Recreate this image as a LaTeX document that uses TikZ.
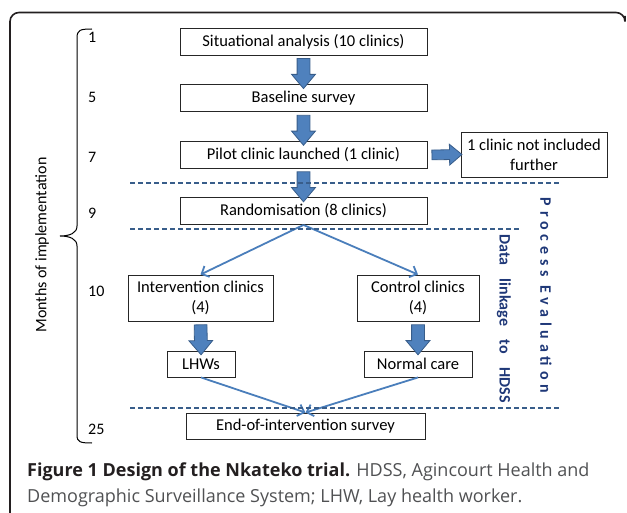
\documentclass[tikz,border=0pt]{standalone}
\usepackage{fontspec}
\setmainfont{Carlito}
\newfontfamily\capfont{Open Sans}
\usepackage{tikz}
\usetikzlibrary{shapes.arrows}
\usetikzlibrary{arrows.meta}
\definecolor{blockblue}{HTML}{4F81BD}
\definecolor{blockedge}{HTML}{385D8A}
\definecolor{lineblue}{HTML}{4A7EBB}
\definecolor{navyblue}{HTML}{1F3878}
\definecolor{capgray}{HTML}{505153}
\definecolor{capdark}{HTML}{231F20}

\tikzset{
  stage/.style={draw=black!85, line width=0.9pt, minimum width=247pt, minimum height=27pt,
    inner sep=0pt, align=center, font=\fontsize{16.5}{20}\selectfont},
  month/.style={anchor=west, inner sep=0pt, font=\fontsize{16}{19}\selectfont},
  fat/.style={single arrow, draw=blockedge, fill=blockblue, line width=0.8pt, inner sep=6pt,
    minimum height=30pt, single arrow head extend=5.5pt,
    single arrow tip angle=80, sloped, allow upside down},
  link/.style={draw=lineblue, line width=1.8pt, -{Straight Barb[length=6pt,width=12pt]}},
  cut/.style={blockedge, dashed, dash pattern=on 5pt off 3pt, line width=1.2pt},
  side/.style={text=navyblue, font=\bfseries\fontsize{16}{19}\selectfont}
}

\begin{document}
\begin{tikzpicture}[x=1pt, y=-1pt]
	\useasboundingbox (0,0) rectangle (627,513);
	% Paths, nodes and wires:
	\draw[capdark, line width=1.6pt, rounded corners=9pt] (10,514) -- (10,12.5) -- (625,12.5) -- (625,16);
	\node[stage] (sit) at (303.5,41.5) {Situational analysis (10 clinics)};
	\node[stage] (base) at (303.5,98) {Baseline survey};
	\node[stage] (pilot) at (303.5,155) {Pilot clinic launched (1 clinic)};
	\node[stage] (rand) at (303.5,211) {Randomisation (8 clinics)};
	\node[stage, minimum width=146pt, minimum height=45pt] (drop) at (534,154.5) {1 clinic not included\\further};
	\node[stage, minimum width=145pt, minimum height=46pt] (inter) at (200.5,298) {Intervention clinics\\(4)};
	\node[stage, minimum width=122pt, minimum height=46pt] (ctrl) at (418,298) {Control clinics\\(4)};
	\node[stage, minimum width=68pt, minimum height=26pt] (lhw) at (201,364) {LHWs};
	\node[stage, minimum width=108pt, minimum height=26pt] (care) at (418,364) {Normal care};
	\node[stage, minimum width=239pt, minimum height=26pt] (end) at (305.5,426) {End-of-intervention survey};
	\path (sit.south) -- (base.north) node[midway, fat] {};
	\path (base.south) -- (pilot.north) node[midway, fat] {};
	\path (pilot.south) -- (rand.north) node[midway, fat] {};
	\path (pilot.east) -- (drop.west) node[midway, fat, inner sep=4.5pt] {};
	\path (inter.south) -- (lhw.north) node[midway, fat] {};
	\path (ctrl.south) -- (care.north) node[midway, fat] {};
	\draw[link] (rand.south) -- (inter.north);
	\draw[link] (rand.south) -- (ctrl.north);
	\draw[link] (lhw.south) -- (end.north);
	\draw[link] (care.south) -- (end.north);
	\draw[cut] (130,183) -- (560,183);
	\draw[cut] (130,229) -- (520,229);
	\draw[cut] (130,408) -- (560,408);
	\node[month] (m1) at (88,37) {1};
	\node[month] (m5) at (88,97) {5};
	\node[month] (m7) at (88,157) {7};
	\node[month] (m9) at (88,213) {9};
	\node[month] (m10) at (88,291) {10};
	\node[month] (m25) at (88,429) {25};
	\draw[line width=1pt] (92,29) .. controls (80,29) and (77,30) .. (77,38) -- (77,226)
		.. controls (77,233) and (70,236) .. (60,236) .. controls (70,236) and (77,239) .. (77,246)
		-- (77,435) .. controls (77,442) and (80,443) .. (92,443);
	\node[rotate=90, font=\fontsize{16}{19}\selectfont] (months) at (42,245) {Months of implementation};
	\node[side, rotate=-90] (proc) at (546,295.5) {\addfontfeature{LetterSpace=30}Process Evaluation};
	\node[side, rotate=-90] (hdss) at (504,318.5) {Data\hspace{10pt} linkage\hspace{10pt} to\hspace{10pt} HDSS};
	\node[anchor=base west, inner sep=0pt, text=capgray, font=\capfont\fontsize{18}{21}\selectfont] (cap1) at (27,476)
		{{\bfseries\color{capdark}Figure 1 Design of the Nkateko trial.} HDSS, Agincourt Health and};
	\node[anchor=base west, inner sep=0pt, text=capgray, font=\capfont\fontsize{18}{21}\selectfont] (cap2) at (27,502)
		{Demographic Surveillance System; LHW, Lay health worker.};
\end{tikzpicture}
\end{document}
